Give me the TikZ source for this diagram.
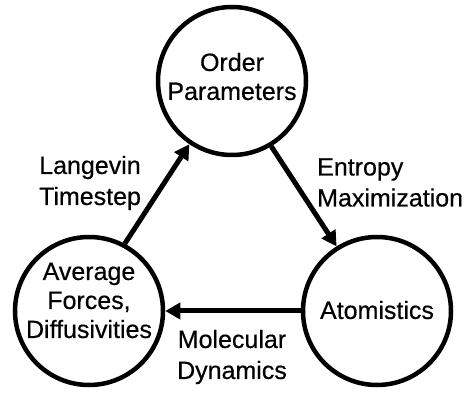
\documentclass[tikz,border=0pt]{standalone}
\usepackage{fontspec}
\setmainfont{Liberation Sans}
\newfontfamily\labelfont[FakeBold=0.4]{Liberation Sans}
\usetikzlibrary{arrows.meta}
\begin{document}
\begin{tikzpicture}[x=1pt,y=-1pt,
  stage/.style={circle,draw,line width=4.5pt,minimum size=148pt,inner sep=0pt},
  stagetext/.style={align=center,font=\labelfont\fontsize{25}{29}\selectfont,inner sep=0pt},
  flow/.style={line width=5pt,-{Triangle[length=15pt,width=16pt]}},
  flowlabel/.style={font=\labelfont\fontsize{25}{31}\selectfont,inner sep=0pt}]
\useasboundingbox[fill=white] (0,0) rectangle (464,393);

% the three stages of the cycle
\node[stage,label={[stagetext,yshift=4.5pt]center:{Order\\Parameters}}] (T) at (232,81) {};
\node[stage,label={[stagetext,yshift=10.5pt]center:{Average\\Forces,\\Diffusivities}}] (L) at (89,311) {};
\node[stage,label={[stagetext,yshift=1pt]center:{Atomistics}}] (R) at (377,311) {};

% transitions between stages
\draw[flow] (T.-59) -- (R.122);
\draw[flow] (R.west) -- (L.east);
\draw[flow] (L.62) -- (T.236);

% transition labels
\node[flowlabel,align=center] (lt) at (90,183) {Langevin\\Timestep};
\node[flowlabel,align=left,anchor=west] (em) at (317,182.5) {Entropy\\Maximization};
\node[flowlabel,align=center] (md) at (232,357) {Molecular\\Dynamics};
\end{tikzpicture}
\end{document}
